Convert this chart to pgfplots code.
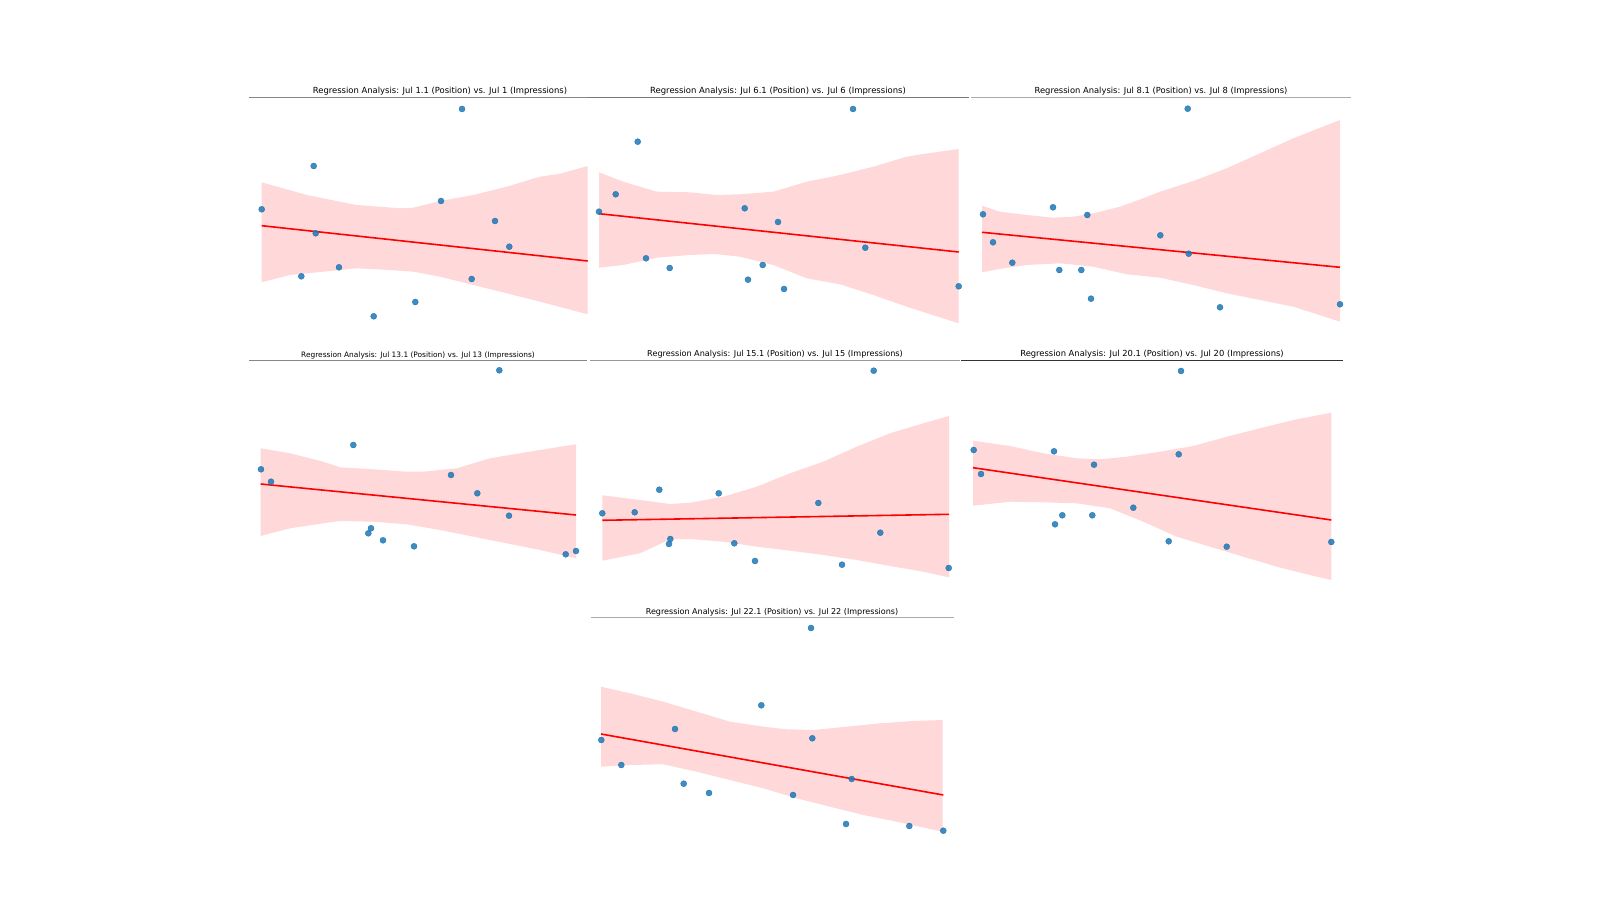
\documentclass[border=0pt]{standalone}
\usepackage{pgfplots}
\pgfplotsset{compat=1.18}
\usepackage{fontspec}
\setmainfont{DejaVu Sans}
\definecolor{band}{RGB}{255,217,217}
\definecolor{pt}{RGB}{31,119,180}
\pgfplotsset{
  panel/.style={hide axis, scale only axis, clip=false, y dir=reverse,
    enlargelimits=false, anchor=north west},
  pts/.style={only marks, mark=*, mark size=3bp, color=pt, mark options={draw=none, fill=pt, fill opacity=0.85}},
  fit/.style={red, line width=1.6bp, no marks},
  ci/.style={draw=none, fill=band, no marks},
}
\newcommand{\ttl}[1]{Regression Analysis: #1}
\begin{document}
\begin{tikzpicture}
\path[use as bounding box, fill=white] (0,0) rectangle (1600bp,900bp);

% Panel 1
\begin{axis}[panel, at={(249bp,802bp)}, width=382bp, height=242bp,
  xmin=249, xmax=631, ymin=98, ymax=340]
\addplot[ci] coordinates {(261.7,182.3)(306.7,195)(356.7,205)(400,208.3)(413.3,207.7)(440,201)(473.3,195)(506.7,186.7)(540,176.7)(560,173.7)(587.7,166)
 (587.7,314.3)(540,301.7)(506.7,293.3)(473.3,285)(440,276.7)(413.3,271.7)(390,270)(356.7,268.3)(323.3,271.7)(290,275)(261.7,282.3)} -- cycle;
\addplot[fit] coordinates {(261.7,225.7)(587.7,261)};
\addplot[pts] coordinates {(261.7,209.3)(313.7,166)(315.7,233.3)(301.3,276.3)(339,267.3)(373.7,316.3)(415.3,302)(441,201)(462,109)(471.7,279)(495,221)(509.3,246.7)};
\draw[color=black!47, line width=1bp] (axis cs:249,98) -- (axis cs:631,98);
\node[anchor=base, font=\fontsize{8.45}{10}\selectfont, inner sep=0pt] at (axis cs:440,94) {\ttl{Jul 1.1 (Position) vs. Jul 1 (Impressions)}};
\end{axis}

% Panel 2
\begin{axis}[panel, at={(587bp,802bp)}, width=382bp, height=242bp,
  xmin=587, xmax=969, ymin=98, ymax=340]
\addplot[ci] coordinates {(599,172.3)(623.3,181.7)(656.7,191.7)(690,192.3)(716.7,195)(740,194.3)(773.3,191.7)(806.7,181.7)(840,175)(873.3,166.7)(906.7,156.7)(923.3,154)(958.7,149)
 (958.7,323.3)(906.7,306.7)(873.3,295)(840,284.3)(806.7,278.3)(773.3,265)(740,256.7)(715,254)(690,255)(656.7,257.7)(623.3,265)(599,267.7)} -- cycle;
\addplot[fit] coordinates {(599,213.7)(958.7,252)};
\addplot[pts] coordinates {(599,211.7)(615.7,194.3)(637.7,141.7)(646,258.3)(669.7,268)(744.7,208.3)(748,279.7)(762.7,265)(778,222)(784,289)(853,109)(865.3,247.7)(958.7,286.3)};
\draw[color=black!53, line width=1bp] (axis cs:587,98) -- (axis cs:969,98);
\node[anchor=base, font=\fontsize{8.5}{10}\selectfont, inner sep=0pt] at (axis cs:778,94) {\ttl{Jul 6.1 (Position) vs. Jul 6 (Impressions)}};
\end{axis}

% Panel 3
\begin{axis}[panel, at={(971bp,802bp)}, width=380bp, height=242bp,
  xmin=971, xmax=1351, ymin=98, ymax=340]
\addplot[ci] coordinates {(982,205.7)(1000,211.7)(1026.7,215)(1053.3,217.7)(1073.3,216.7)(1093.3,213.3)(1120,206.7)(1143.3,198.3)(1160,191.7)(1193.3,181)(1226.7,168.3)(1260,153.3)(1293.3,138.3)(1340,120)
 (1340,321.7)(1293.3,306.7)(1260,300)(1226.7,293.3)(1193.3,285)(1160,277.7)(1126.7,274.3)(1093.3,266.7)(1060,263.3)(1026.7,265)(1003.3,268.3)(982,272.3)} -- cycle;
\addplot[fit] coordinates {(982,232.3)(1340,267.3)};
\addplot[pts] coordinates {(983,214.3)(993,242.3)(1012.3,262.7)(1053,207.3)(1059.3,270)(1081.3,270)(1087.3,215)(1091,298.7)(1160.3,235.3)(1187.7,108.7)(1188.7,253.7)(1220,307.3)(1340,304.3)};
\draw[color=black!33, line width=1bp] (axis cs:971,98) -- (axis cs:1351,98);
\node[anchor=base, font=\fontsize{8.4}{10}\selectfont, inner sep=0pt] at (axis cs:1161,94) {\ttl{Jul 8.1 (Position) vs. Jul 8 (Impressions)}};
\end{axis}

% Panel 4
\begin{axis}[panel, at={(249bp,539bp)}, width=338bp, height=229bp,
  xmin=249, xmax=587, ymin=361, ymax=590]
\addplot[ci] coordinates {(260.7,448.3)(290,453.3)(323.3,461.7)(340,467.3)(373.3,469.3)(406.7,471.7)(423.3,471.7)(456.7,468.3)(490,458.3)(523.3,452.7)(556.7,447.3)(576,444.3)
 (576,558.3)(540,550)(506.7,543.3)(473.3,536.7)(440,530)(406.7,524.3)(373.3,521.7)(340,521)(323.3,523.3)(290,528.3)(260.7,536)} -- cycle;
\addplot[fit] coordinates {(260.7,484)(576,515)};
\addplot[pts] coordinates {(261,469.3)(271,481.7)(353.3,445)(368.3,533.3)(371,528.3)(383,540.3)(414,546.3)(451,475)(477.3,493.3)(499.3,370.3)(509,515.7)(565.7,554.3)(576,551)};
\draw[color=black!47, line width=1bp] (axis cs:249,361) -- (axis cs:587,361);
\node[anchor=base, font=\fontsize{7.45}{9}\selectfont, inner sep=0pt] at (axis cs:418,357.3) {\ttl{Jul 13.1 (Position) vs. Jul 13 (Impressions)}};
\end{axis}

% Panel 5
\begin{axis}[panel, at={(590bp,539bp)}, width=370bp, height=229bp,
  xmin=590, xmax=960, ymin=361, ymax=590]
\addplot[ci] coordinates {(602.3,495.3)(640,500)(670,504)(690,502.7)(723.3,496.7)(756.7,486.7)(790,473.3)(823.3,461.7)(856.7,446.7)(890,433.3)(923.3,423.3)(949,416)
 (949,577.3)(923.3,571.7)(890,566)(856.7,560)(823.3,555)(790,550.7)(756.7,546.7)(723.3,541.7)(690,539)(670,539.3)(640,553.3)(602.3,560.7)} -- cycle;
\addplot[fit] coordinates {(602.3,520.3)(949,514.3)};
\addplot[pts] coordinates {(602.3,513.3)(634.7,512.3)(659.3,489.7)(669,544)(670.3,539)(718.7,493.3)(734.3,543.3)(755,561)(818.3,503)(842,564.7)(873.7,370.7)(880.3,532.7)(948.7,568)};
\draw[color=black!40, line width=1bp] (axis cs:590,361) -- (axis cs:960,361);
\node[anchor=base, font=\fontsize{8.15}{10}\selectfont, inner sep=0pt] at (axis cs:775,356.7) {\ttl{Jul 15.1 (Position) vs. Jul 15 (Impressions)}};
\end{axis}

% Panel 6
\begin{axis}[panel, at={(961bp,539bp)}, width=382bp, height=229bp,
  xmin=961, xmax=1343, ymin=361, ymax=590]
\addplot[ci] coordinates {(973,440.7)(1010,446)(1043.3,453.3)(1076.7,458.3)(1100,459.3)(1126.7,456.7)(1160,451.7)(1193.3,446)(1226.7,436.7)(1260,428.3)(1293.3,420)(1331.3,412.7)
 (1331.3,580)(1310,575)(1276.7,566.7)(1243.3,556.7)(1210,546.7)(1176.7,536.7)(1143.3,521.7)(1110,508.3)(1076.7,503.3)(1043.3,502.3)(1010,501.7)(973,505.7)} -- cycle;
\addplot[fit] coordinates {(973,467.7)(1331.3,520)};
\addplot[pts] coordinates {(973.7,450)(981,474)(1054,451.3)(1055,524.3)(1062.3,515.3)(1092.3,515.3)(1094,464.7)(1133.3,507.7)(1168.7,541.3)(1178.7,454.3)(1181,371)(1226.7,546.7)(1331.3,542)};
\draw[color=black!80, line width=1bp] (axis cs:961,361) -- (axis cs:1343,361);
\node[anchor=base, font=\fontsize{8.4}{10}\selectfont, inner sep=0pt] at (axis cs:1152,356.7) {\ttl{Jul 20.1 (Position) vs. Jul 20 (Impressions)}};
\end{axis}

% Panel 7
\begin{axis}[panel, at={(591bp,282bp)}, width=363bp, height=227bp,
  xmin=591, xmax=954, ymin=618, ymax=845]
\addplot[ci] coordinates {(601,686.7)(630,693.3)(663.3,701.7)(696.7,711.7)(730,721.7)(763.3,726.7)(786.7,729.3)(813.3,730)(846.7,726.7)(880,723.3)(913.3,721)(942.7,720)
 (942.7,831.7)(896.7,821.7)(863.3,815)(830,806.7)(796.7,798.3)(763.3,788.3)(730,780)(696.7,771.7)(663.3,764.3)(630,765)(601,766.7)} -- cycle;
\addplot[fit] coordinates {(601,734)(943.3,795)};
\addplot[pts] coordinates {(601.3,740)(621.3,765)(675,729)(683.7,783.7)(709,793)(761.3,705.3)(793,795)(811,628)(812.3,738.3)(846,824)(851.7,779)(909.3,826)(943.3,830.7)};
\draw[color=black!33, line width=1bp] (axis cs:591,618) -- (axis cs:954,618);
\node[anchor=base, font=\fontsize{8.05}{10}\selectfont, inner sep=0pt] at (axis cs:772,614.3) {\ttl{Jul 22.1 (Position) vs. Jul 22 (Impressions)}};
\end{axis}
\end{tikzpicture}
\end{document}
